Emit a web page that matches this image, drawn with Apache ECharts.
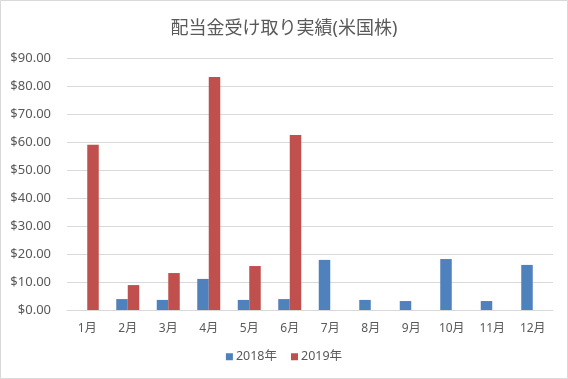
<!DOCTYPE html>
<html><head><meta charset="utf-8">
<script src="https://cdn.jsdelivr.net/npm/echarts@6/dist/echarts.min.js"></script>
<style>html,body{margin:0;padding:0;background:#fff}#c{width:568px;height:379px}</style>
</head><body><div id="c"></div>
<script>
const categories = ['1月','2月','3月','4月','5月','6月','7月','8月','9月','10月','11月','12月'];
const series2018 = [null, 3.9, 3.6, 11.1, 3.6, 3.9, 17.9, 3.6, 3.2, 18.2, 3.2, 16.1];
const series2019 = [59.0, 8.9, 13.2, 83.2, 15.7, 62.5, null, null, null, null, null, null];
const seriesNames = ['2018年', '2019年'];
const titleText = '配当金受け取り実績(米国株)';

const FONT = '"Noto Sans", "Noto Sans CJK JP", sans-serif';
const chart = echarts.init(document.getElementById('c'));
chart.setOption({
  animation: false,
  backgroundColor: '#fff',
  textStyle: { fontFamily: FONT },
  title: { text: titleText, left: 'center', top: 15,
    textStyle: { fontSize: 18, fontWeight: 'normal', color: '#595959', fontFamily: FONT } },
  graphic: [{ type: 'rect', shape: { x: 0.5, y: 0.5, width: 567, height: 378 },
    style: { fill: 'none', stroke: '#d9d9d9', lineWidth: 1 }, silent: true }],
  legend: { data: seriesNames, bottom: 11, left: 'center', itemWidth: 7, itemHeight: 7, itemGap: 14,
    icon: 'rect', textStyle: { fontSize: 12.5, color: '#595959', padding: [0,0,0,-2] } },
  grid: { left: 67, right: 15, top: 58, bottom: 69, containLabel: false },
  xAxis: { type: 'category', data: categories,
    axisLine: { lineStyle: { color: '#d9d9d9' } }, axisTick: { show: false },
    axisLabel: { color: '#595959', fontSize: 12, margin: 13 } },
  yAxis: { type: 'value', min: 0, max: 90, interval: 10,
    axisLine: { show: false }, axisTick: { show: false },
    splitLine: { lineStyle: { color: '#d9d9d9' } },
    axisLabel: { color: '#595959', fontSize: 13, margin: 16,
      formatter: v => '$' + v.toFixed(2) } },
  series: [
    { name: seriesNames[0], type: 'bar', data: series2018, barWidth: 11.5, barGap: '0%',
      itemStyle: { color: '#4f81bd' } },
    { name: seriesNames[1], type: 'bar', data: series2019, barWidth: 11.5, barGap: '0%',
      itemStyle: { color: '#c0504d' } }
  ]
});
</script></body></html>
